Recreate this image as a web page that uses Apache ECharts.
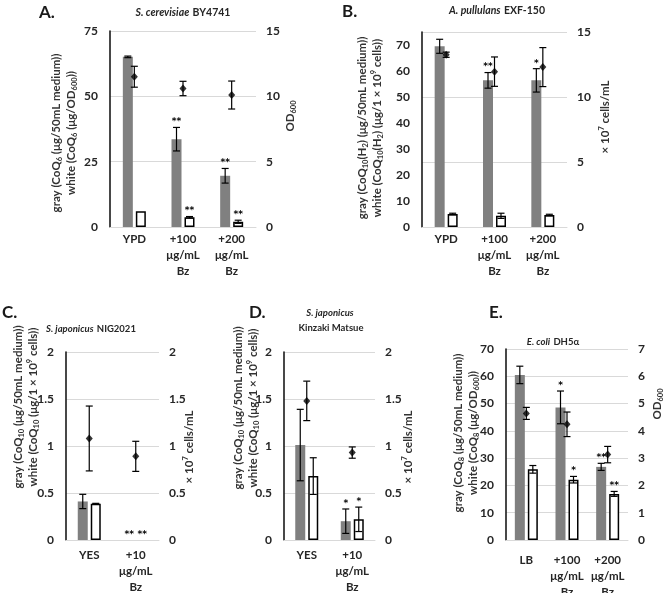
<!DOCTYPE html>
<html>
<head>
<meta charset="utf-8">
<script src="https://cdn.jsdelivr.net/npm/echarts@6/dist/echarts.min.js"></script>
<style>
html, body { margin: 0; padding: 0; background: #fff; }
#chart { width: 671px; height: 593px; }
</style>
</head>
<body>
<div id="chart"></div>
<script>
// ---- data ----
// A. S. cerevisiae BY4741 (left: CoQ6, right: OD600)
const catsA = ['YPD', '+100\nμg/mL\nBz', '+200\nμg/mL\nBz']
const grayA = [65.1, 33.6, 19.6]
const grayErrA = [0.3, 4.5, 2.8]
const whiteA = [6.0, 3.7, 2.0]
const whiteErrA = [0, 0.3, 0.6]
const odA = [11.5, 10.6, 10.1]
const odErrA = [0.8, 0.55, 1.07]
const sigGrayA = ['', '**', '**']
const sigWhiteA = ['', '**', '**']

// B. A. pullulans EXF-150 (left: CoQ10(H2), right: x10^7 cells/mL)
const catsB = ['YPD', '+100\nμg/mL\nBz', '+200\nμg/mL\nBz']
const grayB = [69.5, 56.4, 56.4]
const grayErrB = [2.7, 3.0, 4.5]
const whiteB = [5.0, 4.3, 4.6]
const whiteErrB = [0.3, 1.0, 0.3]
const cellsB = [13.25, 11.95, 12.3]
const cellsErrB = [0.2, 1.13, 1.5]
const sigGrayB = ['', '**', '*']
const sigWhiteB = ['', '', '']

// C. S. japonicus NIG2021
const catsC = ['YES', '+10\nμg/mL\nBz']
const grayC = [0.41, 0]
const grayErrC = [0.076, 0]
const whiteC = [0.385, 0]
const whiteErrC = [0.005, 0]
const cellsC = [1.08, 0.89]
const cellsErrC = [0.345, 0.16]
const sigGrayC = ['', '**']
const sigWhiteC = ['', '**']

// D. S. japonicus Kinzaki Matsue
const catsD = ['YES', '+10\nμg/mL\nBz']
const grayD = [1.01, 0.2]
const grayErrD = [0.38, 0.13]
const whiteD = [0.68, 0.22]
const whiteErrD = [0.195, 0.13]
const cellsD = [1.48, 0.93]
const cellsErrD = [0.21, 0.06]
const sigGrayD = ['', '*']
const sigWhiteD = ['', '*']

// E. E. coli DH5α (left: CoQ8, right: OD600)
const catsE = ['LB', '+100\nμg/mL\nBz', '+200\nμg/mL\nBz']
const grayE = [60.5, 48.6, 26.8]
const grayErrE = [3.2, 6.0, 1.3]
const whiteE = [25.9, 22.1, 16.9]
const whiteErrE = [1.4, 1.2, 0.9]
const odE = [4.64, 4.24, 3.13]
const odErrE = [0.22, 0.45, 0.3]
const sigGrayE = ['', '*', '**']
const sigWhiteE = ['', '*', '**']

// ---- style / layout ----
const FONT = 'Lato, "Open Sans", "DejaVu Sans", sans-serif'
const TXT = '#262626'
const BAR_W = 10
const BAR_GAP = 3
const OFF = (BAR_W + BAR_GAP) / 2

const RICH = {
  t: { fontSize: 11.5, fontWeight: 'bold', fontFamily: FONT, fill: '#333', lineHeight: 15 },
  sub: { fontSize: 7.5, fontWeight: 'bold', fontFamily: FONT, fill: '#333', lineHeight: 9, verticalAlign: 'bottom' },
  sup: { fontSize: 7.5, fontWeight: 'bold', fontFamily: FONT, fill: '#333', lineHeight: 9, verticalAlign: 'top' },
  i: { fontSize: 10.5, fontWeight: 'bold', fontStyle: 'italic', fontFamily: FONT, fill: '#262626' },
  b: { fontSize: 10.5, fontWeight: 'bold', fontFamily: FONT, fill: '#262626' },
  si: { fontSize: 9.5, fontWeight: 'bold', fontStyle: 'italic', fontFamily: FONT, fill: '#262626' },
  sb: { fontSize: 9.5, fontWeight: 'bold', fontFamily: FONT, fill: '#262626' }
}

// "_{x}" -> subscript, "^{x}" -> superscript
function fmt(s) {
  return s.split('\n').map(line =>
    line.split(/(_\{[^}]*\}|\^\{[^}]*\})/).filter(Boolean).map(p => {
      if (p.startsWith('_{')) return '{sub|' + p.slice(2, -1) + '}'
      if (p.startsWith('^{')) return '{sup|' + p.slice(2, -1) + '}'
      return '{t|' + p + '}'
    }).join('')
  ).join('\n')
}

const panels = [
  {
    cats: catsA, gray: grayA, grayErr: grayErrA, white: whiteA, whiteErr: whiteErrA,
    dot: odA, dotErr: odErrA, sigGray: sigGrayA, sigWhite: sigWhiteA,
    grid: { left: 110, top: 31, right: 415, bottom: 366 },
    lMax: 75, lInt: 25, rMax: 15, rInt: 5, xMargin: 4,
    lName: 'gray (CoQ_{6} (μg/50mL medium))\nwhite (CoQ_{6} (μg/OD_{600}))', lPos: [64, 133],
    rName: 'OD_{600}', rPos: [290, 116]
  },
  {
    cats: catsB, gray: grayB, grayErr: grayErrB, white: whiteB, whiteErr: whiteErrB,
    dot: cellsB, dotErr: cellsErrB, sigGray: sigGrayB, sigWhite: sigWhiteB,
    grid: { left: 422, top: 32, right: 104, bottom: 366 },
    lMax: 75, lInt: 10, lHideMax: true, rMax: 15, rInt: 5, xMargin: 4,
    lName: 'gray (CoQ_{10}(H_{2}) (μg/50mL medium))\nwhite (CoQ_{10}(H_{2}) (μg/1 × 10^{9} cells))', lPos: [370, 128],
    rName: '× 10^{7} cells/mL', rPos: [605, 117]
  },
  {
    cats: catsC, gray: grayC, grayErr: grayErrC, white: whiteC, whiteErr: whiteErrC,
    dot: cellsC, dotErr: cellsErrC, sigGray: sigGrayC, sigWhite: sigWhiteC,
    grid: { left: 66, top: 352, right: 512, bottom: 53 },
    lMax: 2, lInt: 0.5, rMax: 2, rInt: 0.5, xMargin: 7,
    lName: 'gray (CoQ_{10} (μg/50mL medium))\nwhite (CoQ_{10} (μg/1 × 10^{9} cells))', lPos: [26, 407],
    rName: '× 10^{7} cells/mL', rPos: [189, 447]
  },
  {
    cats: catsD, gray: grayD, grayErr: grayErrD, white: whiteD, whiteErr: whiteErrD,
    dot: cellsD, dotErr: cellsErrD, sigGray: sigGrayD, sigWhite: sigWhiteD,
    grid: { left: 284, top: 352, right: 296, bottom: 53 },
    lMax: 2, lInt: 0.5, rMax: 2, rInt: 0.5, xMargin: 7,
    lName: 'gray (CoQ_{10} (μg/50mL medium))\nwhite (CoQ_{10} (μg/1 × 10^{9} cells))', lPos: [246, 408],
    rName: '× 10^{7} cells/mL', rPos: [408, 447]
  },
  {
    cats: catsE, gray: grayE, grayErr: grayErrE, white: whiteE, whiteErr: whiteErrE,
    dot: odE, dotErr: odErrE, sigGray: sigGrayE, sigWhite: sigWhiteE,
    grid: { left: 506, top: 349, right: 43, bottom: 53 },
    lMax: 70, lInt: 10, rMax: 7, rInt: 1, xMargin: 12,
    lName: 'gray (CoQ_{8} (μg/50mL medium))\nwhite (CoQ_{8} (μg/OD_{600}))', lPos: [466, 433],
    rName: 'OD_{600}', rPos: [657, 404]
  }
]

function errRender(offset) {
  return function (params, api) {
    const e = api.value(2)
    if (!e) return null
    const x = api.coord([api.value(0), 0])[0] + offset
    const hi = api.coord([api.value(0), api.value(1) + e])[1]
    const lo = api.coord([api.value(0), api.value(1) - e])[1]
    const st = { stroke: '#000', lineWidth: 1.2 }
    return {
      type: 'group',
      children: [
        { type: 'line', shape: { x1: x, y1: hi, x2: x, y2: lo }, style: st },
        { type: 'line', shape: { x1: x - 3.5, y1: hi, x2: x + 3.5, y2: hi }, style: st },
        { type: 'line', shape: { x1: x - 3.5, y1: lo, x2: x + 3.5, y2: lo }, style: st }
      ]
    }
  }
}

function sigRender(marks, offset) {
  return function (params, api) {
    const txt = marks[params.dataIndex]
    if (!txt) return null
    const p = api.coord([api.value(0), api.value(1) + api.value(2)])
    return {
      type: 'text',
      x: p[0] + offset,
      y: p[1] - 1,
      style: { text: txt, align: 'center', verticalAlign: 'bottom', fontSize: 9, fontWeight: 'bold', fontFamily: 'DejaVu Sans', fill: '#000' }
    }
  }
}

const grid = []
const xAxis = []
const yAxis = []
const series = []

panels.forEach((p, i) => {
  grid.push(Object.assign({ outerBoundsMode: 'none', containLabel: false }, p.grid))
  xAxis.push({
    type: 'category', gridIndex: i, data: p.cats,
    axisLine: { show: true, lineStyle: { color: '#d9d9d9', width: 1 } },
    axisTick: { show: false },
    axisLabel: { interval: 0, margin: p.xMargin, fontSize: 11.5, fontWeight: 'bold', fontFamily: FONT, color: TXT, lineHeight: 16 }
  })
  yAxis.push({
    type: 'value', gridIndex: i, position: 'left', min: 0, max: p.lMax, interval: p.lInt,
    axisLine: { show: true, lineStyle: { color: '#1a1a1a', width: 1.6 } },
    axisTick: { show: false }, splitLine: { show: false },
    axisLabel: { margin: 12, fontSize: 12, fontWeight: 'bold', fontFamily: FONT, color: TXT, showMaxLabel: !p.lHideMax }
  })
  yAxis.push({
    type: 'value', gridIndex: i, position: 'right', min: 0, max: p.rMax, interval: p.rInt,
    axisLine: { show: false }, axisTick: { show: false },
    splitLine: { show: true, lineStyle: { color: '#d9d9d9', width: 1 } },
    axisLabel: { margin: 10, fontSize: 12, fontWeight: 'bold', fontFamily: FONT, color: TXT }
  })
  const yl = 2 * i
  const yr = 2 * i + 1
  series.push({
    type: 'bar', xAxisIndex: i, yAxisIndex: yl, data: p.gray, barWidth: BAR_W, barGap: (BAR_GAP / BAR_W * 100) + '%',
    itemStyle: { color: '#808080' }, animation: false, silent: true
  })
  series.push({
    type: 'bar', xAxisIndex: i, yAxisIndex: yl, barWidth: BAR_W,
    data: p.white.map(v => (v ? v : { value: v, itemStyle: { borderWidth: 0 } })),
    itemStyle: { color: '#fff', borderColor: '#000', borderWidth: 1.5 }, animation: false, silent: true
  })
  series.push({
    type: 'custom', xAxisIndex: i, yAxisIndex: yl, z: 4, animation: false, silent: true,
    data: p.gray.map((v, j) => [j, v, p.grayErr[j]]), renderItem: errRender(-OFF)
  })
  series.push({
    type: 'custom', xAxisIndex: i, yAxisIndex: yl, z: 4, animation: false, silent: true,
    data: p.white.map((v, j) => [j, v, p.whiteErr[j]]), renderItem: errRender(OFF)
  })
  series.push({
    type: 'custom', xAxisIndex: i, yAxisIndex: yl, z: 4, animation: false, silent: true,
    data: p.gray.map((v, j) => [j, v, p.grayErr[j]]), renderItem: sigRender(p.sigGray, -OFF)
  })
  series.push({
    type: 'custom', xAxisIndex: i, yAxisIndex: yl, z: 4, animation: false, silent: true,
    data: p.white.map((v, j) => [j, v, p.whiteErr[j]]), renderItem: sigRender(p.sigWhite, OFF)
  })
  series.push({
    type: 'custom', xAxisIndex: i, yAxisIndex: yr, z: 5, animation: false, silent: true,
    data: p.dot.map((v, j) => [j, v, p.dotErr[j]]), renderItem: errRender(0)
  })
  series.push({
    type: 'scatter', xAxisIndex: i, yAxisIndex: yr, z: 6, data: p.dot.map((v, j) => [j, v]),
    symbol: 'diamond', symbolSize: [7, 8], itemStyle: { color: '#000' }, animation: false, silent: true
  })
})

function label(x, y, text) {
  return { type: 'text', x: x, y: y, style: { text: text, align: 'left', verticalAlign: 'middle', fontSize: 17, fontWeight: 'bold', fontFamily: FONT, fill: '#1a1a1a' } }
}
function title(x, y, text) {
  return { type: 'text', x: x, y: y, style: { text: text, rich: RICH, align: 'center', verticalAlign: 'middle' } }
}
// rotated axis title, reads bottom to top
function axisName(pos, text) {
  return { type: 'text', x: pos[0], y: pos[1], rotation: Math.PI / 2, style: { text: fmt(text), rich: RICH, align: 'center', verticalAlign: 'middle' } }
}

const graphic = [
  label(39, 13, 'A.'),
  label(342, 12, 'B.'),
  label(2, 313, 'C.'),
  label(249, 313, 'D.'),
  label(489, 313, 'E.'),
  title(183, 13, '{i|S. cerevisiae} {b|BY4741}'),
  title(497, 11, '{i|A. pullulans} {b|EXF-150}'),
  title(91, 329, '{si|S. japonicus} {sb|NIG2021}'),
  title(330, 313, '{si|S. japonicus}'),
  title(331, 328, '{sb|Kinzaki Matsue}'),
  title(553, 342, '{si|E. coli} {sb|DH5α}')
]
panels.forEach(p => {
  graphic.push(axisName(p.lPos, p.lName))
  graphic.push(axisName(p.rPos, p.rName))
})

const chart = echarts.init(document.getElementById('chart'))
chart.setOption({
  animation: false,
  backgroundColor: '#fff',
  grid: grid,
  xAxis: xAxis,
  yAxis: yAxis,
  series: series,
  graphic: graphic
})
window.addEventListener('resize', () => { chart.resize() })
</script>
</body>
</html>
